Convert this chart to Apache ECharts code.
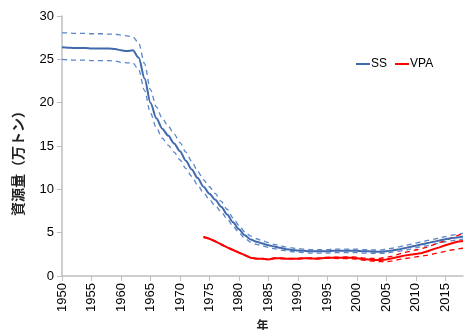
<!DOCTYPE html>
<html><head><meta charset="utf-8">
<script src="https://cdn.jsdelivr.net/npm/echarts@6/dist/echarts.min.js"></script>
<style>html,body{margin:0;padding:0;background:#fff}#c{width:465px;height:330px}</style>
</head><body><div id="c"></div>
<script>
var years = [];
for (var y = 1950; y <= 2018; y++) years.push(String(y));
var yTicks = [0, 5, 10, 15, 20, 25, 30];
var yTitle = '資源量（万トン）';
var xTitle = '年';

var ssMain = [26.4,26.35,26.3,26.3,26.3,26.25,26.25,26.25,26.25,26.2,
  26.05,25.95,26.05,25.2,22.8,20.0,18.2,17.0,16.2,15.3,
  14.4,13.3,12.3,11.3,10.3,9.5,8.8,8.0,7.1,6.2,
  5.4,4.7,4.2,3.95,3.75,3.55,3.4,3.25,3.1,3.0,
  2.95,2.9,2.85,2.85,2.85,2.85,2.9,2.9,2.9,2.9,
  2.9,2.85,2.85,2.8,2.8,2.85,2.95,3.05,3.2,3.35,
  3.5,3.65,3.8,3.95,4.1,4.25,4.35,4.45,4.55];
var ssUpper = [28.05,28.05,28.0,28.0,28.0,27.95,27.95,27.95,27.9,27.9,
  27.8,27.7,27.6,26.9,24.5,21.5,19.5,18.2,17.3,16.4,
  15.4,14.3,13.2,12.1,11.1,10.3,9.5,8.6,7.7,6.7,
  5.85,5.1,4.6,4.3,4.05,3.85,3.65,3.5,3.35,3.25,
  3.15,3.1,3.05,3.05,3.05,3.05,3.1,3.1,3.1,3.1,
  3.1,3.05,3.05,3.0,3.0,3.1,3.2,3.35,3.5,3.65,
  3.8,3.95,4.1,4.25,4.4,4.55,4.7,4.8,4.95];
var ssLower = [25.0,24.95,24.9,24.9,24.9,24.85,24.85,24.85,24.85,24.8,
  24.65,24.6,24.6,23.8,21.4,18.8,17.1,15.9,15.1,14.3,
  13.4,12.4,11.5,10.5,9.6,8.8,8.1,7.4,6.6,5.75,
  5.0,4.35,3.9,3.65,3.47,3.3,3.15,3.0,2.9,2.8,
  2.75,2.7,2.65,2.65,2.65,2.65,2.7,2.7,2.7,2.7,
  2.7,2.65,2.65,2.6,2.6,2.65,2.75,2.85,2.95,3.1,
  3.25,3.4,3.5,3.65,3.8,3.95,4.05,4.15,4.25];

var vpaStart = 1974;
var vpaMain = [4.5,4.3,4.0,3.65,3.3,3.0,2.7,2.4,2.1,2.0,
  2.0,1.9,2.05,2.05,2.0,2.0,2.0,2.05,2.05,2.0,
  2.05,2.1,2.1,2.1,2.1,2.1,2.05,1.95,1.9,1.85,
  1.85,1.9,2.05,2.2,2.35,2.45,2.55,2.65,2.85,3.1,
  3.3,3.55,3.75,3.95,4.05];
var vpaUpper = [4.53,4.33,4.03,3.68,3.33,3.03,2.73,2.43,2.13,2.03,
  2.03,1.93,2.08,2.08,2.03,2.03,2.04,2.09,2.09,2.05,
  2.1,2.16,2.17,2.18,2.19,2.2,2.16,2.08,2.05,2.02,
  2.05,2.15,2.3,2.5,2.7,2.85,3.0,3.15,3.35,3.6,
  3.85,4.1,4.4,4.65,4.9];
var vpaLower = [4.47,4.27,3.97,3.62,3.27,2.97,2.67,2.37,2.07,1.97,
  1.97,1.87,2.02,2.02,1.97,1.97,1.96,2.01,2.01,1.95,
  2.0,2.04,2.03,2.02,2.01,2.0,1.94,1.83,1.76,1.7,
  1.66,1.65,1.75,1.88,2.0,2.1,2.2,2.3,2.4,2.55,
  2.7,2.85,3.0,3.1,3.2];

function pad(arr, start) {
  var out = [];
  for (var i = 0; i < years.length; i++) {
    var k = Number(years[i]) - start;
    out.push(k >= 0 && k < arr.length ? arr[k] : null);
  }
  return out;
}

var blue = '#4169ad', blueDash = '#5a86c6', red = '#ff0000';
var font = 'Liberation Sans, Arial, sans-serif';
var chart = echarts.init(document.getElementById('c'), null, {renderer: 'canvas'});
chart.setOption({
  animation: false,
  grid: {left: 62, right: 2, top: 16, bottom: 54, containLabel: false, outerBoundsMode: 'none'},
  graphic: [{
    type: 'text', x: 18, y: 160, rotation: Math.PI / 2,
    style: {text: yTitle, fontFamily: 'Noto Sans CJK JP', fontSize: 14, fontWeight: 'bold',
      fill: '#222', align: 'center', verticalAlign: 'middle'}
  }],
  legend: {
    data: ['SS', 'VPA'], left: 351, top: 53, itemGap: 8,
    itemWidth: 14, itemHeight: 2, icon: 'rect',
    textStyle: {fontFamily: font, fontSize: 12, color: '#000', padding: [0, 0, 0, -4]}
  },
  xAxis: {
    type: 'category', data: years, boundaryGap: false,
    name: xTitle, nameLocation: 'middle', nameGap: 42,
    nameTextStyle: {fontFamily: 'Noto Sans CJK JP', fontSize: 12, fontWeight: 'bold', color: '#222'},
    axisLine: {lineStyle: {color: '#bfbfbf', width: 1.5}},
    axisTick: {interval: 4, length: 5, lineStyle: {color: '#bfbfbf'}},
    axisLabel: {interval: 4, rotate: 90, fontFamily: font, fontSize: 13, color: '#000', margin: 7},
    splitLine: {show: false}
  },
  yAxis: {
    type: 'value', min: 0, max: 30, interval: 5,
    axisLine: {show: true, lineStyle: {color: '#bfbfbf', width: 1.5}},
    axisTick: {show: true, length: 5, lineStyle: {color: '#bfbfbf'}},
    axisLabel: {fontFamily: font, fontSize: 13, color: '#000', margin: 8,
      formatter: function (v) { return yTicks.indexOf(v) >= 0 ? String(v) : ''; }},
    splitLine: {show: false}
  },
  series: [
    {name: 'SS', type: 'line', data: ssMain, symbol: 'none', smooth: 0.3, smoothMonotone: 'x', z: 5,
      lineStyle: {color: blue, width: 2}, itemStyle: {color: blue}},
    {name: 'SS上限', type: 'line', data: ssUpper, symbol: 'none', smooth: 0.3, smoothMonotone: 'x',
      lineStyle: {color: blueDash, width: 1.3, type: [5, 4]}},
    {name: 'SS下限', type: 'line', data: ssLower, symbol: 'none', smooth: 0.3, smoothMonotone: 'x',
      lineStyle: {color: blueDash, width: 1.3, type: [5, 4]}},
    {name: 'VPA', type: 'line', data: pad(vpaMain, vpaStart), symbol: 'none', z: 6,
      lineStyle: {color: red, width: 2}, itemStyle: {color: red}},
    {name: 'VPA上限', type: 'line', data: pad(vpaUpper, vpaStart), symbol: 'none',
      lineStyle: {color: red, width: 1.3, type: [5, 4]}},
    {name: 'VPA下限', type: 'line', data: pad(vpaLower, vpaStart), symbol: 'none',
      lineStyle: {color: red, width: 1.3, type: [5, 4]}}
  ]
});
</script></body></html>
